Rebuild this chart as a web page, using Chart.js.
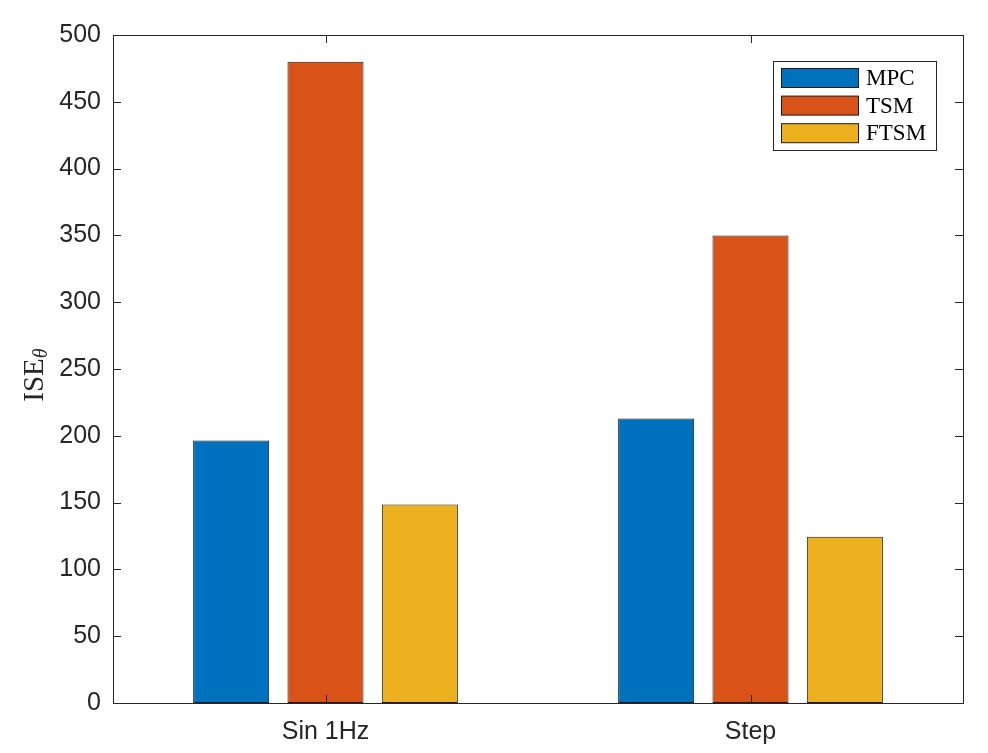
<!DOCTYPE html>
<html>
<head>
<meta charset="utf-8">
<script src="https://cdn.jsdelivr.net/npm/chart.js@4"></script>
<style>
  html, body { margin: 0; padding: 0; background: #fff; }
  #wrap { width: 988px; height: 753px; }
</style>
</head>
<body>
<div id="wrap"><canvas id="barChart" width="988" height="753"></canvas></div>
<script>
// data
const categories = ['Sin 1Hz', 'Step'];
const seriesNames = ['MPC', 'TSM', 'FTSM'];
const mpcValues = [196.5, 213];
const tsmValues = [480, 350];
const ftsmValues = [148.5, 124.5];
const yTicks = [0, 50, 100, 150, 200, 250, 300, 350, 400, 450, 500];

const colors = ['#0072BD', '#D95319', '#EDB120'];
const axisColor = '#262626';

// box, inward ticks, y label and legend like a MATLAB figure
const matlabFrame = {
  id: 'matlabFrame',
  afterDraw(chart) {
    const ctx = chart.ctx;
    const a = chart.chartArea;
    const x = chart.scales.x, y = chart.scales.y;
    ctx.save();
    ctx.strokeStyle = axisColor;
    ctx.lineWidth = 1;
    ctx.strokeRect(Math.round(a.left) + 0.5, Math.round(a.top) + 0.5,
      Math.round(a.right - a.left), Math.round(a.bottom - a.top));
    ctx.beginPath();
    yTicks.forEach(v => {
      const py = Math.round(y.getPixelForValue(v)) + 0.5;
      ctx.moveTo(a.left, py); ctx.lineTo(a.left + 8, py);
      ctx.moveTo(a.right, py); ctx.lineTo(a.right - 8, py);
    });
    categories.forEach((c, i) => {
      const px = Math.round(x.getPixelForValue(i)) + 0.5;
      ctx.moveTo(px, a.bottom); ctx.lineTo(px, a.bottom - 8);
      ctx.moveTo(px, a.top); ctx.lineTo(px, a.top + 8);
    });
    ctx.stroke();

    // y axis title ISE with subscript theta
    ctx.translate(43, (a.top + a.bottom) / 2 + 6);
    ctx.rotate(-Math.PI / 2);
    ctx.fillStyle = axisColor;
    ctx.textBaseline = 'alphabetic';
    const mainFont = '29px "Liberation Serif", "Times New Roman", serif';
    const subFont = 'italic 20px "Liberation Serif", "Times New Roman", serif';
    ctx.font = mainFont;
    const wMain = ctx.measureText('ISE').width;
    ctx.font = subFont;
    const wSub = ctx.measureText('θ').width;
    const start = -(wMain + wSub) / 2;
    ctx.textAlign = 'left';
    ctx.font = mainFont;
    ctx.fillText('ISE', start, 0);
    ctx.font = subFont;
    ctx.fillText('θ', start + wMain, 4);
    ctx.restore();

    // legend box
    ctx.save();
    ctx.fillStyle = '#fff';
    ctx.fillRect(773.5, 61.5, 163, 89);
    ctx.strokeStyle = axisColor;
    ctx.strokeRect(773.5, 61.5, 163, 89);
    ctx.font = '23px "Liberation Serif", "Times New Roman", serif';
    ctx.textBaseline = 'middle';
    ctx.textAlign = 'left';
    chart.data.datasets.forEach((ds, i) => {
      const cy = 78 + i * 27.6;
      ctx.fillStyle = ds.backgroundColor;
      ctx.fillRect(781.5, cy - 9.5, 77, 19);
      ctx.strokeStyle = '#1a1a1a';
      ctx.strokeRect(781.5, cy - 9.5, 77, 19);
      ctx.fillStyle = '#000';
      ctx.fillText(ds.label, 866, cy + 1);
    });
    ctx.restore();
  }
};

const ctx = document.getElementById('barChart').getContext('2d');
const barChart = new Chart(ctx, {
  type: 'bar',
  data: {
    labels: categories,
    datasets: [mpcValues, tsmValues, ftsmValues].map((vals, i) => ({
      label: seriesNames[i],
      data: vals,
      backgroundColor: colors[i],
      borderColor: '#1a1a1a',
      borderWidth: 1,
      borderSkipped: false,
      categoryPercentage: 0.666,
      barPercentage: 0.806
    }))
  },
  options: {
    responsive: false,
    animation: false,
    layout: { padding: { top: 35, right: 25, left: 0, bottom: 0 } },
    plugins: {
      legend: { display: false },
      tooltip: { enabled: false }
    },
    scales: {
      x: {
        grid: { display: false, drawTicks: false },
        border: { display: false },
        ticks: {
          padding: 14,
          color: axisColor,
          font: { family: '"Liberation Sans", Arial, sans-serif', size: 25 }
        },
        afterFit(scale) { scale.height = 50; }
      },
      y: {
        min: 0,
        max: 500,
        afterBuildTicks(scale) { scale.ticks = yTicks.map(v => ({ value: v })); },
        grid: { display: false, drawTicks: false },
        border: { display: false },
        ticks: {
          padding: 12,
          color: axisColor,
          font: { family: '"Liberation Sans", Arial, sans-serif', size: 25 }
        },
        afterFit(scale) { scale.width = 113; }
      }
    }
  },
  plugins: [matlabFrame]
});
</script>
</body>
</html>
